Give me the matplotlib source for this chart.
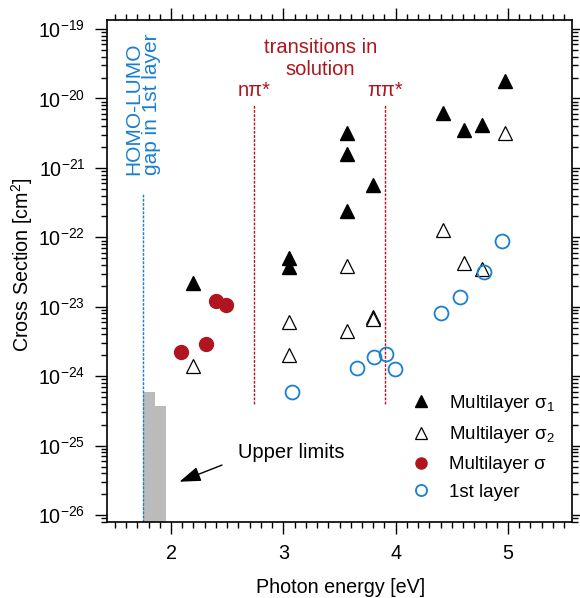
import matplotlib
matplotlib.use("Agg")
import matplotlib.pyplot as plt
from matplotlib.ticker import MultipleLocator, NullFormatter, FixedLocator, LogFormatterSciNotation

plt.rcParams['font.family'] = ['Liberation Sans', 'DejaVu Sans']
plt.rcParams['mathtext.fontset'] = 'custom'
plt.rcParams['mathtext.rm'] = 'Liberation Sans'
plt.rcParams['mathtext.it'] = 'Liberation Sans:italic'
plt.rcParams['mathtext.bf'] = 'Liberation Sans:bold'

# --- data ---
sigma1_x = [2.20, 3.05, 3.05, 3.57, 3.57, 3.57, 3.80, 4.42, 4.61, 4.77, 4.97]
sigma1_y = [2.2e-23, 5.0e-23, 3.7e-23, 3.2e-21, 1.6e-21, 2.4e-22, 5.6e-22, 6.2e-21, 3.5e-21, 4.2e-21, 1.8e-20]

sigma2_x = [2.20, 3.05, 3.05, 3.57, 3.57, 3.80, 3.80, 4.42, 4.61, 4.77, 4.97]
sigma2_y = [1.4e-24, 6.0e-24, 2.0e-24, 3.9e-23, 4.5e-24, 7.1e-24, 6.6e-24, 1.26e-22, 4.3e-23, 3.5e-23, 3.2e-21]

sigma_x = [2.09, 2.31, 2.40, 2.49]
sigma_y = [2.2e-24, 2.9e-24, 1.2e-23, 1.05e-23]

first_x = [3.08, 3.66, 3.81, 3.91, 3.99, 4.40, 4.57, 4.79, 4.95]
first_y = [5.9e-25, 1.3e-24, 1.9e-24, 2.1e-24, 1.26e-24, 8.1e-24, 1.4e-23, 3.2e-23, 8.9e-23]

limit_left = [1.75, 1.857]
limit_width = [0.107, 0.098]
limit_top = [5.9e-25, 3.7e-25]

x_ticks = [2, 3, 4, 5]
y_decades = [-26, -25, -24, -23, -22, -21, -20, -19]

homo_lumo_x = 1.75
npi_x = 2.74
pipi_x = 3.905

blue = '#1a7fd0'
red = '#b0151f'
FS = 14.2
TFS = 14.5

fig = plt.figure(figsize=(5.8, 5.98), dpi=100)
ax = fig.add_axes([107/580, 1-522/598, (572-107)/580, (522-20)/598])
ymin, ymax = 10**-26.1, 10**-18.87
ax.set_xlim(1.43, 5.57)
ax.set_yscale('log')
ax.set_ylim(ymin, ymax)

# upper limit bars
ax.bar(limit_left, [t - ymin for t in limit_top], width=limit_width, bottom=ymin,
       align='edge', color='#bbbbbb', edgecolor='none', zorder=1)

# vertical lines
ax.plot([homo_lumo_x, homo_lumo_x], [ymin, 4.4e-22], ls=(0, (2, 1)), color=blue, lw=1.0, zorder=1)
for xv in (npi_x, pipi_x):
    ax.plot([xv, xv], [4e-25, 8.3e-21], ls=(0, (2, 1)), color=red, lw=1.0, zorder=1)

ms = 10
ax.plot(sigma1_x, sigma1_y, '^', ms=ms, color='black', ls='none', label=r'Multilayer σ$_1$', zorder=3)
ax.plot(sigma2_x, sigma2_y, '^', ms=ms, mfc='white', mec='black', mew=0.9, ls='none',
        label=r'Multilayer σ$_2$', zorder=3)
ax.plot(sigma_x, sigma_y, 'o', ms=ms, color=red, ls='none', label='Multilayer σ', zorder=3)
ax.plot(first_x, first_y, 'o', ms=ms, mfc='none', mec=blue, mew=1.3, ls='none',
        label='1st layer', zorder=3)

# texts
ax.text(1.746, 10**-21.10, 'HOMO-LUMO\ngap in 1st layer', rotation=90, color=blue,
        fontsize=15, ha='center', va='bottom', multialignment='left', linespacing=0.95)
ax.text(3.33, 10**-19.27, 'transitions in', color=red, fontsize=TFS, ha='center', va='center')
ax.text(3.33, 10**-19.59, 'solution', color=red, fontsize=TFS, ha='center', va='center')
ax.text(npi_x, 10**-19.88, 'nπ*', color=red, fontsize=TFS, ha='center', va='center')
ax.text(pipi_x, 10**-19.88, 'ππ*', color=red, fontsize=TFS, ha='center', va='center')
ax.text(2.597, 10**-25.10, 'Upper limits', fontsize=TFS, ha='left', va='center')
ax.annotate('', xy=(2.075, 10**-25.52), xytext=(2.454, 10**-25.28),
            arrowprops=dict(arrowstyle='-|>,head_length=1.3,head_width=0.45', color='black',
                            lw=1.0, shrinkA=0, shrinkB=0))

# ticks
ax.xaxis.set_major_locator(FixedLocator(x_ticks))
ax.xaxis.set_minor_locator(MultipleLocator(0.1))
major_y = [10.0**d for d in y_decades]
minor_y = [m * 10.0**d for d in [-27] + y_decades for m in range(2, 10)
           if ymin <= m * 10.0**d <= ymax]
ax.yaxis.set_major_locator(FixedLocator(major_y))
ax.yaxis.set_major_formatter(LogFormatterSciNotation())
ax.yaxis.set_minor_locator(FixedLocator(minor_y))
ax.yaxis.set_minor_formatter(NullFormatter())
ax.tick_params(which='both', direction='out', top=True, right=True, labelsize=FS, width=1.0, pad=7)
ax.tick_params(which='major', length=8.6)
ax.tick_params(which='minor', length=4.5)
for s in ax.spines.values():
    s.set_linewidth(1.2)

ax.set_xlabel('Photon energy [eV]', fontsize=FS, va='center')
ax.xaxis.set_label_coords(0.503, -0.13)
ax.set_ylabel('Cross Section [cm$^2$]', fontsize=FS, va='center')
ax.yaxis.set_label_coords(-0.183, 0.512)

leg = ax.legend(loc='upper left', bbox_to_anchor=(0.655, 0.257), frameon=False, fontsize=13.5,
                handlelength=1.0, handletextpad=1.0, labelspacing=0.56, borderaxespad=0,
                borderpad=0, markerscale=0.8)

fig.savefig('out.png', dpi=100)
